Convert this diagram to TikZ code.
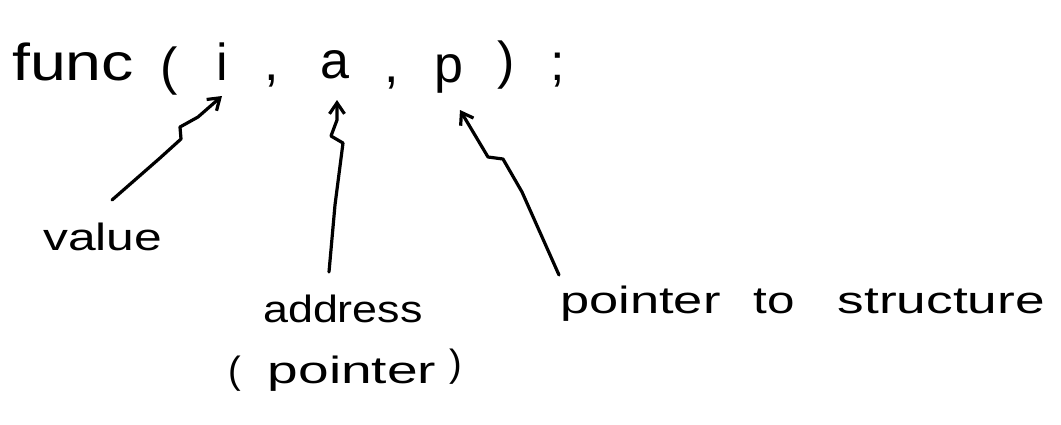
\documentclass[tikz,border=0pt]{standalone}
\usepackage{fontspec}
\setmainfont{Liberation Sans}
\usetikzlibrary{arrows.meta}
\begin{document}
\begin{tikzpicture}[x=1pt,y=-1pt,
  tok/.style={anchor=base west,inner sep=0pt,font=\fontsize{52}{60}\selectfont},
  lbl/.style={anchor=base west,inner sep=0pt,font=\fontsize{38}{46}\selectfont},
  link/.style={line width=3.2pt,line join=round,line cap=round,-{Straight Barb[length=11pt,width=15pt,line width=3.2pt]}}]
\useasboundingbox[fill=white] (0,0) rectangle (1061,424);
% call
\node[tok] (func) at (12,80) {\scalebox{1.24}[1]{func}};
\node[tok] (lp) at (160,84) {(};
\node[tok] (i) at (216,80) {i};
\node[tok] (c1) at (264,80) {,};
\node[tok] (a) at (320,78) {a};
\node[tok] (c2) at (384,82) {,};
\node[tok] (p) at (434,82) {p};
\node[tok] (rp) at (497,78) {)};
\node[tok] (sc) at (550,80) {;};
% labels
\node[lbl] (value) at (43,250) {\scalebox{1.31}[1]{value}};
\node[lbl] (address) at (263,322) {\scalebox{1.18}[1]{address}};
\node[lbl] (pointer) at (228,383) {(\hspace{27pt}\scalebox{1.45}[1]{pointer}\hspace{13pt}\raisebox{7pt}{)}};
\node[lbl] (pts) at (560,313) {\scalebox{1.38}[1]{pointer}\hspace{33pt}\scalebox{1.3}[1]{to}\hspace{43pt}\scalebox{1.4}[1]{structure}};
% arrows
\coordinate (vt) at (112,200);
\coordinate (vh) at (222,96);
\coordinate (at) at (329,272);
\coordinate (ah) at (337,100);
\coordinate (pt) at (559,275);
\coordinate (ph) at (460,110);
\draw[link] (vt) -- (160,158) -- (181,139) -- (180,127) -- (198,117) -- (vh);
\draw[link] (at) -- (335,205) -- (343,143) -- (331,136) -- (337,120) -- (ah);
\draw[link] (pt) -- (522,192) -- (503,159) -- (488,157) -- (ph);
\end{tikzpicture}
\end{document}
